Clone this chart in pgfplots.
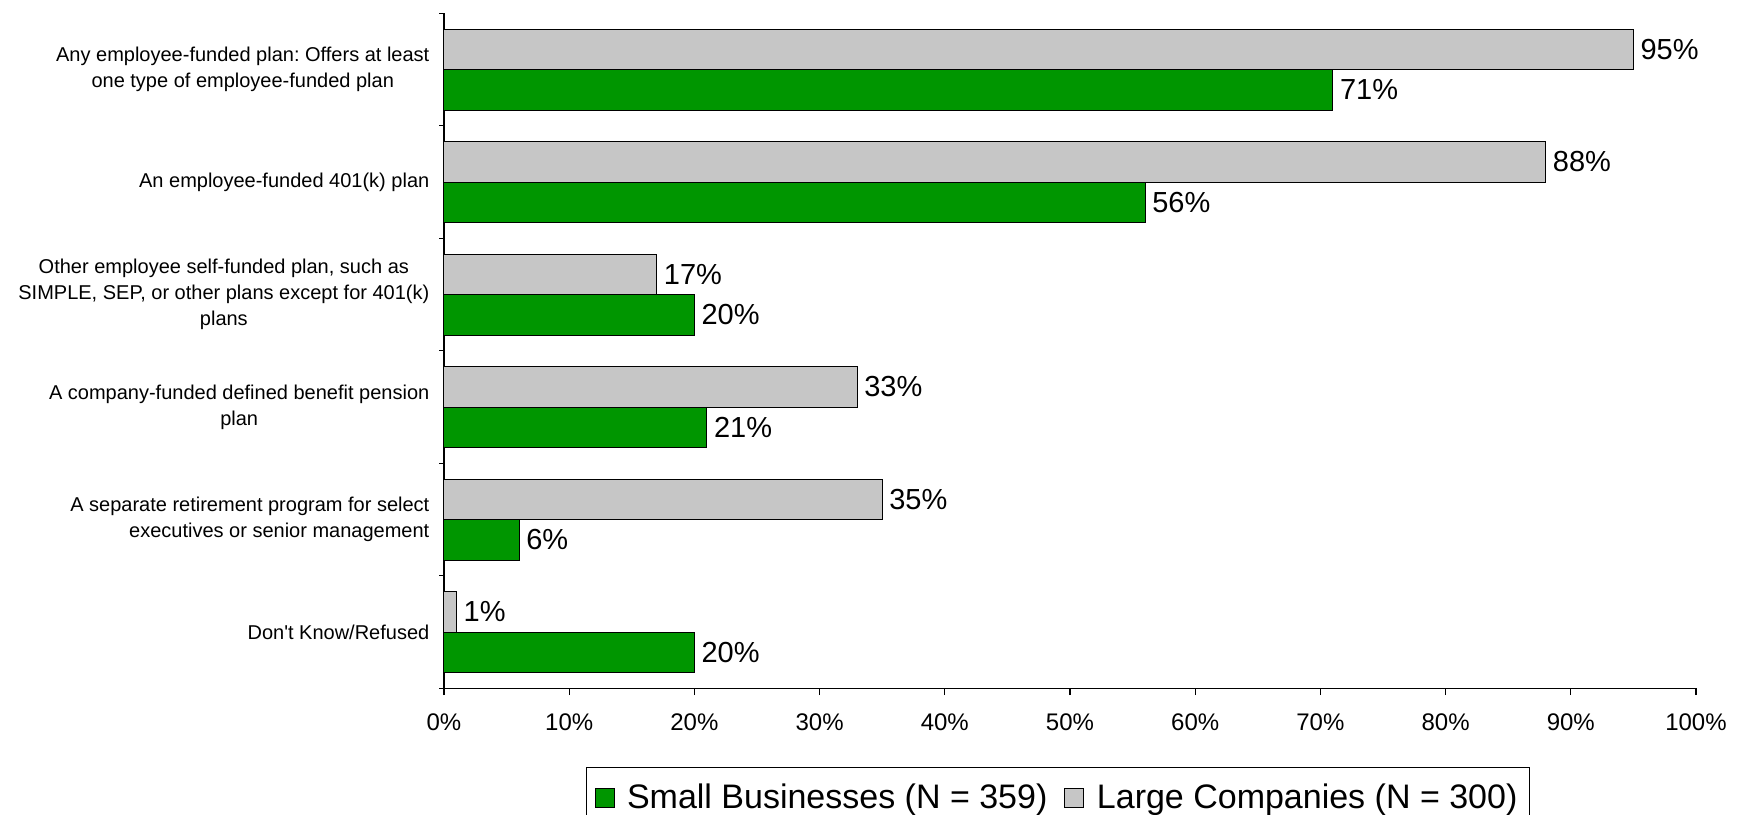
\documentclass[border=0pt]{standalone}
\usepackage{fontspec}
\setmainfont{Liberation Sans}
\usepackage{pgfplots}
\pgfplotsset{compat=1.18}
\definecolor{sbgreen}{RGB}{0,150,0}
\definecolor{lcgray}{RGB}{198,198,198}
\frenchspacing
\begin{document}
\frenchspacing
\begin{tikzpicture}
\useasboundingbox (-222pt,-63pt) rectangle (649pt,344.2pt);
\begin{axis}[
  scale only axis, width=626pt, height=337.5pt,
  xbar, bar width=20.25pt,
  xmin=0, xmax=100, ymin=-0.5, ymax=5.5,
  enlargelimits=false, clip=false,
  axis x line=bottom, axis y line=left,
  axis line style={-, line width=0.6pt, black},
  tick align=outside,
  major tick length=3.3pt, minor tick length=2.4pt,
  tick style={black, line width=0.6pt},
  every major y tick/.append style={draw=none},
  xtick={0,10,...,100},
  xticklabel={\pgfmathprintnumber{\tick}\%},
  /pgf/number format/assume math mode=true,
  xticklabel style={font=\fontsize{12}{14}\selectfont, yshift=-6pt},
  ytick={0,1,2,3,4,5},
  minor ytick={-0.5,0.5,1.5,2.5,3.5,4.5,5.5},
  yticklabel style={font=\fontsize{10}{13}\selectfont, xshift=-0.5pt},
  yticklabels={
    {Don\textquotesingle t Know/Refused},
    {\begin{tabular}{@{}r@{}}A separate retirement program for select\\executives or senior management\end{tabular}},
    {\begin{tabular}{@{}c@{}}A company-funded defined benefit pension\\plan\end{tabular}},
    {\begin{tabular}{@{}c@{}}Other employee self-funded plan, such as\\SIMPLE, SEP, or other plans except for 401(k)\\plans\end{tabular}},
    {An employee-funded 401(k) plan},
    {\begin{tabular}{@{}c@{}}Any employee-funded plan: Offers at least\\one type of employee-funded plan\end{tabular}}
  },
  point meta=x,
  nodes near coords={\pgfmathprintnumber{\pgfplotspointmeta}\%},
  every node near coord/.append style={font=\fontsize{14.5}{17}\selectfont, anchor=west, text=black},
  legend style={at={(axis description cs:0.4904,-0.117)}, anchor=north,
    legend columns=2, font=\fontsize{17}{20}\selectfont, draw=black, line width=0.5pt,
    inner ysep=6pt, inner xsep=4pt,
    /tikz/every even column/.append style={column sep=6.5pt}, cells={anchor=west}},
  legend image code/.code={\draw[#1, line width=0.5pt] (0pt,-4.75pt) rectangle (9.5pt,4.75pt); \path[draw=none, fill=none] (0pt,0pt) -- (14pt,0pt);},
]
\addplot[fill=sbgreen, draw=black, line width=0.5pt, bar shift=-10.125pt] coordinates {
  (20,0) (6,1) (21,2) (20,3) (56,4) (71,5)};
\addlegendentry{Small Businesses (N = 359)}
\addplot[fill=lcgray, draw=black, line width=0.5pt, bar shift=10.125pt] coordinates {
  (1,0) (35,1) (33,2) (17,3) (88,4) (95,5)};
\addlegendentry{Large Companies (N = 300)}
\end{axis}
\end{tikzpicture}
\end{document}
